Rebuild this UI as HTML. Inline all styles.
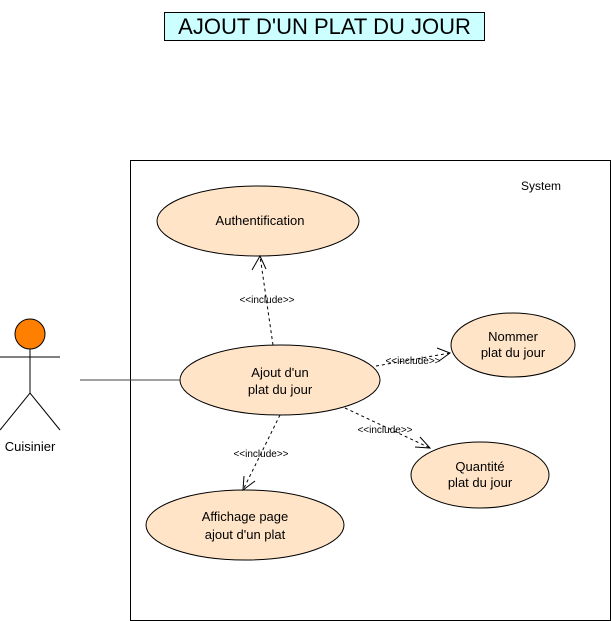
<!DOCTYPE html>
<html><head><style>body{margin:0;background:#fff}svg{display:block}text{font-family:"Liberation Sans",sans-serif;fill:#000}</style></head><body>
<svg width="611" height="621" viewBox="0 0 611 621">
<rect x="164.5" y="12.5" width="320" height="28" fill="#ccffff" stroke="#000"/>
<text x="324.5" y="34" font-size="22" text-anchor="middle">AJOUT D'UN PLAT DU JOUR</text>
<rect x="130.5" y="160.5" width="480" height="460" fill="#fff" stroke="#000"/>
<text x="541" y="190" font-size="12" text-anchor="middle">System</text>
<g fill="#ffe4c7" stroke="#000">
<ellipse cx="258" cy="221" rx="101" ry="35"/>
<ellipse cx="280" cy="380" rx="100" ry="35"/>
<ellipse cx="513" cy="345" rx="62" ry="32"/>
<ellipse cx="480" cy="475" rx="69" ry="33"/>
<ellipse cx="245" cy="525" rx="99" ry="35"/>
</g>
<g font-size="13" text-anchor="middle">
<text x="260" y="225">Authentification</text>
<text x="280" y="377">Ajout d'un</text><text x="280" y="394">plat du jour</text>
<text x="513" y="341">Nommer</text><text x="513" y="357">plat du jour</text>
<text x="480" y="471">Quantité</text><text x="480" y="487">plat du jour</text>
<text x="245" y="521">Affichage page</text><text x="245" y="539">ajout d'un plat</text>
</g>
<g stroke="#000" fill="none">
<line x1="80" y1="380" x2="180" y2="380" stroke="#444"/>
<g stroke-dasharray="3,3">
<line x1="273" y1="345" x2="260" y2="256"/>
<line x1="376" y1="366" x2="450" y2="353"/>
<line x1="345" y1="408" x2="430" y2="448"/>
<line x1="280" y1="415" x2="243" y2="490"/>
</g>
<polyline points="252,270 260,256 266,269"/>
<polyline points="437,348 450,353 439,361"/>
<polyline points="415,447 430,448 420,437"/>
<polyline points="244,476 243,490 255,481"/>
<circle cx="30" cy="334" r="15" fill="#ff8000"/>
<line x1="0" y1="357" x2="60" y2="357"/>
<line x1="30" y1="349" x2="30" y2="393"/>
<polyline points="0,430 30,393 60,430"/>
</g>
<g font-size="10" text-anchor="middle">
<text x="267" y="303">&lt;&lt;include&gt;&gt;</text>
<text x="413" y="364">&lt;&lt;include&gt;&gt;</text>
<text x="385" y="433">&lt;&lt;include&gt;&gt;</text>
<text x="261" y="457">&lt;&lt;include&gt;&gt;</text>
</g>
<text x="30" y="451" font-size="13" text-anchor="middle">Cuisinier</text>
</svg>
</body></html>
